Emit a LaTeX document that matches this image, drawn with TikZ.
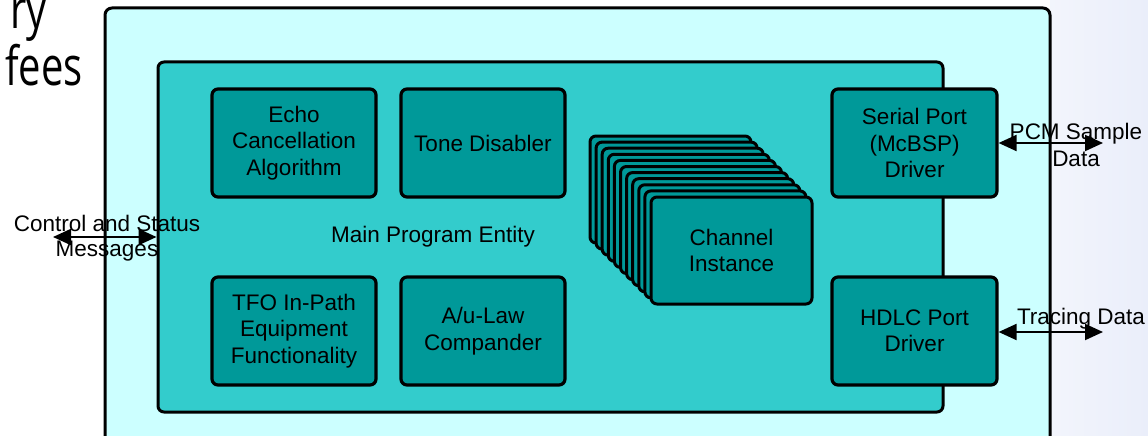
\documentclass[tikz,border=0pt]{standalone}
\usepackage{fontspec}
\setmainfont{Liberation Sans}
\newfontfamily\titlefont{Open Sans}[FakeStretch=0.74]
\usetikzlibrary{arrows.meta}

\definecolor{outerfill}{RGB}{204,255,255}
\definecolor{mainfill}{RGB}{51,204,204}
\definecolor{blockfill}{RGB}{0,153,153}
\definecolor{slidebg}{RGB}{234,238,250}

\tikzset{
  lbl/.style={font=\fontsize{22.5}{26.5}\selectfont, align=center, inner sep=0pt, text=black},
  block/.style={draw=black, line width=3.2pt, fill=blockfill, rounded corners=6pt,
    minimum width=164pt, minimum height=108pt, inner sep=0pt, lbl},
  card/.style={draw=black, line width=3pt, fill=blockfill, rounded corners=6pt,
    minimum width=161pt, minimum height=107pt, inner sep=0pt, lbl},
  link/.style={line width=2pt, {Triangle[length=18pt,width=16pt]}-{Triangle[length=18pt,width=16pt]}},
  titletext/.style={font=\titlefont\fontsize{54}{58}\selectfont, anchor=base east, inner sep=0pt},
}

\begin{document}
\begin{tikzpicture}[x=1pt, y=-1pt]
\useasboundingbox (0,0) rectangle (1148,436);
\clip (0,0) rectangle (1148,436);

% slide background
\fill[white] (0,0) rectangle (1148,436);
\shade[left color=slidebg!60!white, right color=slidebg] (1050,0) rectangle (1148,436);

% slide title fragments
\node[titletext] (title1) at (47,29) {ry};
\node[titletext] (title2) at (83,85) {fees};

% outer system box (runs past the bottom edge)
\draw[line width=3pt, fill=outerfill, rounded corners=7pt] (105,8) rectangle (1050,470);

% main program entity
\node[draw=black, line width=3pt, fill=mainfill, rounded corners=6pt,
  minimum width=785pt, minimum height=350pt, inner sep=0pt] (main) at (550.5,237) {};
\node[lbl] (mainlbl) at (433,237) {Main Program Entity};

% functional blocks
\node[block] (echo) at (294,143) {Echo\\Cancellation\\Algorithm};
\node[block] (tone) at (483,143) {Tone Disabler};
\node[block] (tfo) at (294,331) {TFO In-Path\\Equipment\\Functionality};
\node[block] (law) at (483,331) {A/u-Law\\Compander};
\node[block, minimum width=165pt] (serial) at (914.5,143) {Serial Port\\(McBSP)\\Driver};
\node[block, minimum width=165pt] (hdlc) at (914.5,331) {HDLC Port\\Driver};

% stack of channel instances
\foreach \k in {10,...,1}{
  \node[card] (ch\k) at (731.5-6.1*\k, 250.5-6.1*\k) {};
}
\node[card] (channel) at (731.5,250.5) {Channel\\Instance};

% external interfaces
\coordinate (ctrlend) at (53,237);
\coordinate (pcmend) at (1103,143);
\coordinate (traceend) at (1103,332);

\draw[link] (ctrlend) -- (main.west |- ctrlend);
\draw[link] (serial.east) -- (pcmend);
\draw[link] (hdlc.east |- traceend) -- (traceend);

\node[lbl, font=\fontsize{22.5}{25}\selectfont] (ctrl) at (107,238) {Control and Status\\Messages};
\node[lbl, font=\fontsize{22.5}{27}\selectfont] (pcm) at (1076,145) {PCM Sample\\Data};
\node[lbl, anchor=base] (trace) at (1081,324) {Tracing Data};
\end{tikzpicture}
\end{document}
